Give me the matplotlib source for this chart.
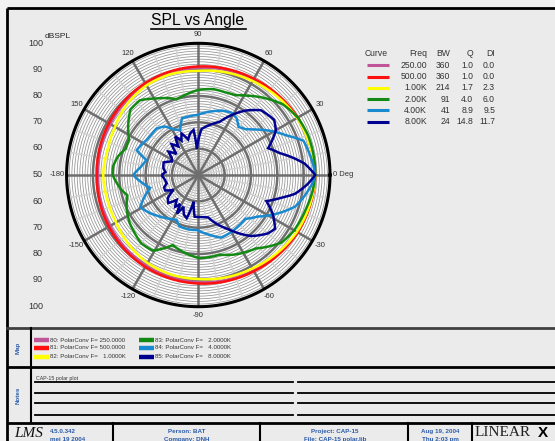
import numpy as np
import matplotlib
matplotlib.use('Agg')
import matplotlib.pyplot as plt
from matplotlib.path import Path
from matplotlib.patches import PathPatch

plt.rcParams['font.family'] = ['Liberation Sans', 'DejaVu Sans']

# ---- data (angle in deg, level in dBSPL) ----
ang_250 = [-180, -150, -120, -90, -60, -30, 0, 30, 60, 90, 120, 150, 180]
db_250 = [88.0, 88.6, 89.6, 90.7, 91.8, 93.4, 94.4, 93.4, 91.8, 90.7, 89.6, 88.6, 88.0]

ang_500 = [-180, -150, -120, -90, -60, -30, 0, 30, 60, 90, 120, 150, 180]
db_500 = [88.5, 89.2, 90.3, 91.2, 92.2, 93.6, 94.4, 93.6, 92.2, 91.2, 90.3, 89.2, 88.5]

ang_1k = [-180, -165, -150, -135, -120, -105, -90, -60, -30, 0, 30, 60, 90, 105,
          120, 135, 150, 165, 180]
db_1k = [86.1, 85.8, 86.0, 87.3, 88.6, 89.2, 89.5, 91.0, 93.2, 94.4, 93.3, 91.2,
         89.5, 89.7, 89.3, 88.2, 86.5, 85.7, 86.1]

ang_2k = [-180, -170, -164, -155, -145, -139, -130, -121, -110, -100, -89, -75,
          -66, -52, -39, -30, -18, -8, 0, 10, 20, 30, 40, 50, 58, 65, 72, 80, 90,
          98, 106, 112, 119, 128, 136, 145, 153, 160, 167, 174, 180]
db_2k = [82.5, 80.0, 78.0, 80.0, 81.8, 82.5, 83.8, 83.5, 78.3, 80.0, 81.6, 81.3,
         83.1, 85.4, 90.7, 92.0, 92.8, 93.8, 94.4, 94.4, 94.3, 93.6, 91.8, 88.3,
         85.5, 83.4, 83.0, 83.1, 82.3, 81.0, 79.9, 81.5, 83.2, 86.0, 85.8, 82.5,
         79.5, 79.3, 81.3, 82.5, 82.5]

ang_4k = [-180, -172, -165, -158, -151, -142, -133, -124, -116, -110, -100, -91,
          -80, -70, -60, -50, -43, -35, -27, -18, -10, -4, 0, 5, 12, 18, 24, 30,
          38, 44, 50, 56, 62, 70, 78, 91, 100, 106, 112, 118, 125, 132, 140, 146,
          152, 158, 164, 172, 180]
db_4k = [74.7, 71.5, 68.9, 72.0, 75.2, 73.4, 71.5, 70.0, 68.9, 70.8, 71.0, 70.9,
         73.0, 75.3, 75.0, 74.6, 74.4, 77.5, 82.7, 88.7, 91.5, 93.5, 94.4, 93.8,
         92.8, 92.0, 86.8, 83.0, 78.0, 75.0, 73.8, 76.0, 76.8, 76.0, 74.7, 72.8,
         72.5, 72.4, 68.4, 69.5, 72.5, 73.7, 73.5, 73.7, 74.5, 75.2, 70.4, 72.0,
         74.7]

ang_8k = [-180, -172, -165, -160, -155, -149, -143, -137, -131, -126, -122, -119,
          -115, -110, -105, -100, -95, -85, -77, -61, -49, -40, -35, -28, -21,
          -16, -11, -5, 0, 6, 15, 21, 30, 36, 46, 54, 63, 68, 77, 86, 93, 96, 101,
          106, 112, 116, 121, 125, 131, 136, 142, 147, 153, 160, 169, 175, 180]
db_8k = [63.9, 62.8, 62.4, 63.8, 63.9, 61.0, 64.5, 65.6, 62.5, 64.9, 63.0, 66.7,
         63.3, 66.0, 67.0, 60.3, 65.9, 66.0, 66.5, 73.5, 80.7, 84.5, 85.6, 82.1,
         77.7, 82.0, 87.4, 91.5, 94.4, 90.7, 82.0, 78.4, 84.0, 85.6, 84.2, 80.2,
         74.8, 71.8, 69.5, 67.5, 60.0, 67.2, 66.1, 64.0, 67.0, 64.5, 67.0, 63.2,
         65.5, 61.5, 64.4, 62.0, 61.3, 64.0, 63.5, 62.5, 63.9]

curves = [(ang_250, db_250), (ang_500, db_500), (ang_1k, db_1k),
          (ang_2k, db_2k), (ang_4k, db_4k), (ang_8k, db_8k)]
colors = ['#C0559A', '#FF1010', '#FFFF00', '#138A13', '#1A8AD0', '#000090']

freq = ['250.00', '500.00', '1.00K', '2.00K', '4.00K', '8.00K']
bw = ['360', '360', '214', '91', '41', '24']
q = ['1.0', '1.0', '1.7', '4.0', '8.9', '14.8']
di = ['0.0', '0.0', '2.3', '6.0', '9.5', '11.7']

map_labels = ['80: PolarConv F= 250.0000', '81: PolarConv F= 500.0000',
              '82: PolarConv F=   1.0000K', '83: PolarConv F=   2.0000K',
              '84: PolarConv F=   4.0000K', '85: PolarConv F=   8.0000K']

r_ticks = ['100', '90', '80', '70', '60', '50', '60', '70', '80', '90', '100']
ang_ticks = [90, 120, 150, 180, -150, -120, -90, -60, -30, 30, 60]
ang_tick_labels = ['90', '120', '150', '-180', '-150', '-120', '-90', '-60',
                   '-30', '30', '60']

# ---- figure, pixel-space background axes ----
W, H = 555, 441
fig = plt.figure(figsize=(W / 100, H / 100), dpi=100, facecolor='#F2F2F2')
bg = fig.add_axes([0, 0, 1, 1])
bg.set_xlim(0, W)
bg.set_ylim(H, 0)
bg.axis('off')
bg.add_patch(plt.Rectangle((7, 8), W, H, facecolor='#EBEBEB', edgecolor='none'))

blue = '#2A5BA8'
k = dict(color='black', lw=2, solid_capstyle='butt')
bg.plot([7, W], [8, 8], **k)
bg.plot([7, 7], [8, H], **k)
bg.plot([7, W], [328, 328], color='#404040', lw=2)
bg.plot([7, W], [367, 367], **k)
bg.plot([7, W], [423, 423], **k)
bg.plot([31, 31], [328, 423], color='black', lw=1.5)
for xv in [113, 260, 408, 472]:
    bg.plot([xv, xv], [423, H], color='black', lw=1.5)

# title and axis text
bg.text(198, 21, 'SPL vs Angle', fontsize=11.3, ha='center', va='center')
bg.plot([151, 246], [28.5, 28.5], color='black', lw=1.2)
bg.text(45, 36, 'dBSPL', fontsize=6, ha='left', va='center', color='#222222')
r_y = [43, 69.5, 95.5, 122, 148, 174.5, 201, 227.5, 253.5, 280, 306.5]
for lab, yy in zip(r_ticks, r_y):
    bg.text(43, yy, lab, fontsize=6.5, ha='right', va='center', color='#333333')

# legend table
hy = 54
bg.text(365, hy, 'Curve', fontsize=6.2, ha='left', va='center', color='#333333')
for txt, xr in [('Freq', 427), ('BW', 450), ('Q', 473), ('DI', 495)]:
    bg.text(xr, hy, txt, fontsize=6.2, ha='right', va='center', color='#333333')
row_y = [65, 76.7, 87.7, 99, 110.3, 121.7]
for i in range(6):
    yy = row_y[i]
    bg.plot([367, 389], [yy, yy], color=colors[i], lw=2.2, solid_capstyle='butt')
    for txt, xr in [(freq[i], 427), (bw[i], 450), (q[i], 473), (di[i], 495)]:
        bg.text(xr, yy, txt, fontsize=6.2, ha='right', va='center', color='#333333')

# map section
bg.text(18, 348, 'Map', fontsize=4.5, rotation=90, ha='center', va='center',
        color=blue, fontweight='bold')
map_pos = [(34, 340), (34, 347.7), (34, 356.7), (139, 340), (139, 347.7), (139, 356.7)]
for i, (mx, my) in enumerate(map_pos):
    bg.plot([mx, mx + 15], [my, my], color=colors[i], lw=3.2, solid_capstyle='butt')
    bg.text(mx + 16, my, map_labels[i], fontsize=4.4, ha='left', va='center',
            color='#333333')

# notes section
bg.text(18, 395, 'Notes', fontsize=4.5, rotation=90, ha='center', va='center',
        color=blue, fontweight='bold')
bg.text(36, 378.5, 'CAP-15 polar plot', fontsize=3.8, ha='left', va='center',
        color='#333333')
for ly in [381.7, 392.7, 403.3, 415]:
    bg.plot([35, 293], [ly, ly], color='black', lw=1.3)
    bg.plot([298, W], [ly, ly], color='black', lw=1.3)

# footer
bg.text(14, 433.5, 'LMS', fontsize=11, family='Liberation Serif', style='italic',
        ha='left', va='center', color='#111111')
fb = dict(fontsize=4.5, fontweight='bold', color=blue, va='center')
bg.text(50, 431.5, '4.5.0.342', ha='left', **fb)
bg.text(50, 439.5, 'mei 19 2004', ha='left', **fb)
bg.text(187, 431.5, 'Person: BAT', ha='center', **fb)
bg.text(187, 439.5, 'Company: DNH', ha='center', **fb)
bg.text(335, 431.5, 'Project: CAP-15', ha='center', **fb)
bg.text(335, 439.5, 'File: CAP-15 polar.lib', ha='center', **fb)
bg.text(440.5, 431.5, 'Aug 19, 2004', ha='center', **fb)
bg.text(440.5, 439.5, 'Thu 2:03 pm', ha='center', **fb)
bg.text(475, 433, 'LINEAR', fontsize=11, family='Liberation Serif', ha='left',
        va='center', color='#222222')
bg.text(538, 433, 'X', fontsize=11, family='Liberation Sans', fontweight='bold',
        ha='left', va='center', color='black')

# ---- polar plot ----
cx, cy, R = 198.3, 175, 131.7
ax = fig.add_axes([(cx - R) / W, (H - cy - R) / H, 2 * R / W, 2 * R / H],
                  projection='polar')
ax.set_facecolor('white')
ax.set_ylim(50, 100)
ax.set_xticks([])
ax.set_yticks([])
ax.grid(False)
ax.spines['polar'].set_visible(False)

full = np.linspace(0, 2 * np.pi, 361)
for r in range(51, 100):
    if r % 10:
        ax.plot(full, np.full_like(full, r), color='#919191', lw=0.55, zorder=1)
for a in range(0, 360, 10):
    if a % 30:
        ax.plot([np.radians(a)] * 2, [50, 100], color='#D2D2D2', lw=1.1, zorder=2)
for r in [60, 70, 80, 90]:
    ax.plot(full, np.full_like(full, r), color='#6E6E6E', lw=1.8, zorder=3)
for a in range(0, 360, 30):
    ax.plot([np.radians(a)] * 2, [50, 100], color='#6E6E6E', lw=1.8, zorder=3)
ax.plot(full, np.full_like(full, 100), color='black', lw=2.2, zorder=6, clip_on=False)

# curves: straight segments in (angle, dB) space, drawn through the polar transform
for (angs, dbs), c in zip(curves, colors):
    verts = np.column_stack([np.radians(angs), dbs])
    path = Path(verts, _interpolation_steps=24)
    ax.add_patch(PathPatch(path, fill=False, edgecolor=c, lw=1.8, zorder=5,
                           transform=ax.transData))

for a, lab in zip(ang_ticks, ang_tick_labels):
    ax.text(np.radians(a), 103.4, lab, fontsize=5.5, ha='center', va='center',
            color='#333333', clip_on=False)
ax.text(0, 101.3, '0 Deg', fontsize=5.5, ha='left', va='center', color='#333333',
        clip_on=False)

bg.text(192, 304, 'LMS', fontsize=5, family='Liberation Serif', style='italic',
        ha='center', va='center', color='#222222', zorder=10)

fig.savefig('out.png', dpi=100, facecolor=fig.get_facecolor())
